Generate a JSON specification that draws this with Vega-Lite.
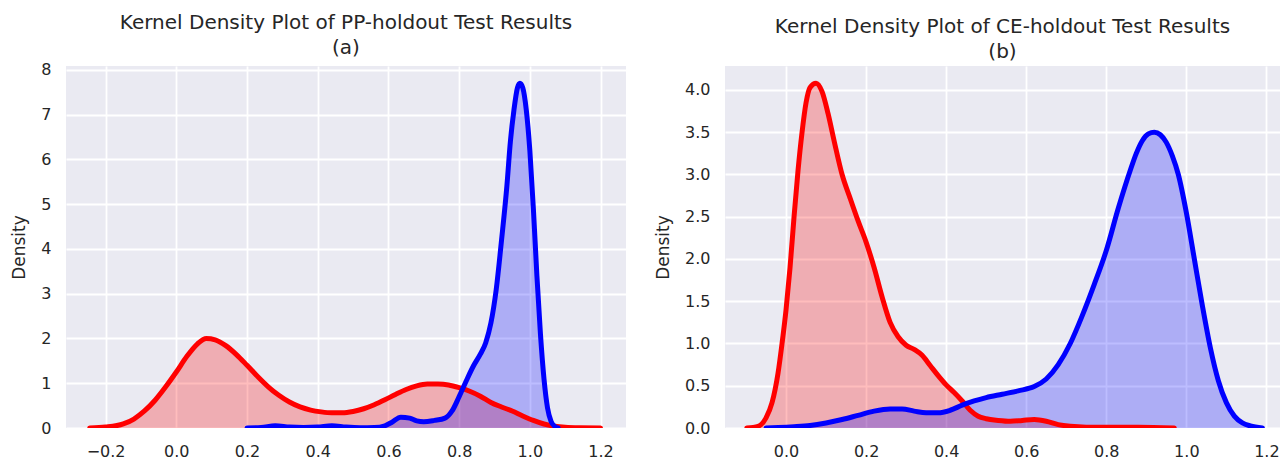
{
  "$schema": "https://vega.github.io/schema/vega-lite/v6.json",
  "padding": {"left": 10, "top": 12, "right": 0, "bottom": 0},
  "spacing": 28,
  "datasets": {
    "a": [
      {"series": "red", "x": -0.245, "y": 0}, {"series": "red", "x": -0.2, "y": 0.02}, {"series": "red", "x": -0.15, "y": 0.09},
      {"series": "red", "x": -0.12, "y": 0.2}, {"series": "red", "x": -0.09, "y": 0.38}, {"series": "red", "x": -0.06, "y": 0.62},
      {"series": "red", "x": -0.03, "y": 0.92}, {"series": "red", "x": 0.0, "y": 1.25}, {"series": "red", "x": 0.03, "y": 1.6},
      {"series": "red", "x": 0.06, "y": 1.88}, {"series": "red", "x": 0.085, "y": 2.0}, {"series": "red", "x": 0.11, "y": 1.97},
      {"series": "red", "x": 0.14, "y": 1.84}, {"series": "red", "x": 0.17, "y": 1.64}, {"series": "red", "x": 0.2, "y": 1.4},
      {"series": "red", "x": 0.23, "y": 1.15}, {"series": "red", "x": 0.26, "y": 0.92}, {"series": "red", "x": 0.29, "y": 0.73},
      {"series": "red", "x": 0.32, "y": 0.58}, {"series": "red", "x": 0.35, "y": 0.47}, {"series": "red", "x": 0.38, "y": 0.4},
      {"series": "red", "x": 0.41, "y": 0.36}, {"series": "red", "x": 0.44, "y": 0.34}, {"series": "red", "x": 0.47, "y": 0.34},
      {"series": "red", "x": 0.5, "y": 0.37}, {"series": "red", "x": 0.53, "y": 0.43}, {"series": "red", "x": 0.56, "y": 0.52},
      {"series": "red", "x": 0.59, "y": 0.63}, {"series": "red", "x": 0.62, "y": 0.75}, {"series": "red", "x": 0.65, "y": 0.86},
      {"series": "red", "x": 0.68, "y": 0.94}, {"series": "red", "x": 0.71, "y": 0.98}, {"series": "red", "x": 0.74, "y": 0.98},
      {"series": "red", "x": 0.77, "y": 0.96}, {"series": "red", "x": 0.8, "y": 0.9}, {"series": "red", "x": 0.83, "y": 0.82},
      {"series": "red", "x": 0.86, "y": 0.71}, {"series": "red", "x": 0.89, "y": 0.57}, {"series": "red", "x": 0.92, "y": 0.47},
      {"series": "red", "x": 0.95, "y": 0.38}, {"series": "red", "x": 0.98, "y": 0.27}, {"series": "red", "x": 1.01, "y": 0.17},
      {"series": "red", "x": 1.04, "y": 0.09}, {"series": "red", "x": 1.07, "y": 0.04}, {"series": "red", "x": 1.1, "y": 0.015},
      {"series": "red", "x": 1.14, "y": 0.004}, {"series": "red", "x": 1.2, "y": 0},
      {"series": "blue", "x": 0.2, "y": 0}, {"series": "blue", "x": 0.24, "y": 0.01}, {"series": "blue", "x": 0.28, "y": 0.05},
      {"series": "blue", "x": 0.32, "y": 0.02}, {"series": "blue", "x": 0.36, "y": 0.01}, {"series": "blue", "x": 0.4, "y": 0.02},
      {"series": "blue", "x": 0.44, "y": 0.05}, {"series": "blue", "x": 0.48, "y": 0.02}, {"series": "blue", "x": 0.52, "y": 0.005},
      {"series": "blue", "x": 0.56, "y": 0.01}, {"series": "blue", "x": 0.59, "y": 0.05}, {"series": "blue", "x": 0.61, "y": 0.13},
      {"series": "blue", "x": 0.635, "y": 0.24}, {"series": "blue", "x": 0.66, "y": 0.22}, {"series": "blue", "x": 0.68, "y": 0.16},
      {"series": "blue", "x": 0.7, "y": 0.14}, {"series": "blue", "x": 0.73, "y": 0.17}, {"series": "blue", "x": 0.76, "y": 0.22},
      {"series": "blue", "x": 0.78, "y": 0.38}, {"series": "blue", "x": 0.8, "y": 0.7}, {"series": "blue", "x": 0.82, "y": 1.05},
      {"series": "blue", "x": 0.84, "y": 1.38}, {"series": "blue", "x": 0.86, "y": 1.65}, {"series": "blue", "x": 0.875, "y": 1.9},
      {"series": "blue", "x": 0.89, "y": 2.35}, {"series": "blue", "x": 0.905, "y": 3.1}, {"series": "blue", "x": 0.92, "y": 4.2},
      {"series": "blue", "x": 0.935, "y": 5.4}, {"series": "blue", "x": 0.945, "y": 6.4}, {"series": "blue", "x": 0.955, "y": 7.1},
      {"series": "blue", "x": 0.965, "y": 7.6}, {"series": "blue", "x": 0.972, "y": 7.7}, {"series": "blue", "x": 0.98, "y": 7.6},
      {"series": "blue", "x": 0.99, "y": 7.1}, {"series": "blue", "x": 1.0, "y": 6.2}, {"series": "blue", "x": 1.01, "y": 4.9},
      {"series": "blue", "x": 1.02, "y": 3.4}, {"series": "blue", "x": 1.03, "y": 2.1}, {"series": "blue", "x": 1.04, "y": 1.1},
      {"series": "blue", "x": 1.05, "y": 0.45}, {"series": "blue", "x": 1.06, "y": 0.15}, {"series": "blue", "x": 1.07, "y": 0.04},
      {"series": "blue", "x": 1.08, "y": 0}
    ],
    "b": [
      {"series": "red", "x": -0.098, "y": 0}, {"series": "red", "x": -0.07, "y": 0.02}, {"series": "red", "x": -0.05, "y": 0.12},
      {"series": "red", "x": -0.035, "y": 0.3}, {"series": "red", "x": -0.02, "y": 0.65}, {"series": "red", "x": -0.01, "y": 1.0},
      {"series": "red", "x": 0.0, "y": 1.4}, {"series": "red", "x": 0.01, "y": 1.9}, {"series": "red", "x": 0.02, "y": 2.5},
      {"series": "red", "x": 0.03, "y": 3.05}, {"series": "red", "x": 0.04, "y": 3.5}, {"series": "red", "x": 0.05, "y": 3.85},
      {"series": "red", "x": 0.06, "y": 4.03}, {"series": "red", "x": 0.075, "y": 4.08}, {"series": "red", "x": 0.09, "y": 3.98},
      {"series": "red", "x": 0.105, "y": 3.72}, {"series": "red", "x": 0.12, "y": 3.4}, {"series": "red", "x": 0.14, "y": 3.0},
      {"series": "red", "x": 0.16, "y": 2.72}, {"series": "red", "x": 0.18, "y": 2.45}, {"series": "red", "x": 0.2, "y": 2.2},
      {"series": "red", "x": 0.22, "y": 1.9}, {"series": "red", "x": 0.24, "y": 1.55}, {"series": "red", "x": 0.26, "y": 1.25},
      {"series": "red", "x": 0.28, "y": 1.08}, {"series": "red", "x": 0.3, "y": 0.98}, {"series": "red", "x": 0.32, "y": 0.93},
      {"series": "red", "x": 0.34, "y": 0.86}, {"series": "red", "x": 0.36, "y": 0.74}, {"series": "red", "x": 0.38, "y": 0.62},
      {"series": "red", "x": 0.4, "y": 0.51}, {"series": "red", "x": 0.42, "y": 0.42}, {"series": "red", "x": 0.44, "y": 0.32},
      {"series": "red", "x": 0.46, "y": 0.21}, {"series": "red", "x": 0.48, "y": 0.14}, {"series": "red", "x": 0.5, "y": 0.11},
      {"series": "red", "x": 0.53, "y": 0.09}, {"series": "red", "x": 0.56, "y": 0.08}, {"series": "red", "x": 0.59, "y": 0.09},
      {"series": "red", "x": 0.62, "y": 0.1}, {"series": "red", "x": 0.65, "y": 0.08}, {"series": "red", "x": 0.68, "y": 0.04},
      {"series": "red", "x": 0.71, "y": 0.02}, {"series": "red", "x": 0.75, "y": 0.01}, {"series": "red", "x": 0.8, "y": 0.01},
      {"series": "red", "x": 0.88, "y": 0.01}, {"series": "red", "x": 0.97, "y": 0},
      {"series": "blue", "x": -0.05, "y": 0}, {"series": "blue", "x": -0.02, "y": 0.005}, {"series": "blue", "x": 0.02, "y": 0.015},
      {"series": "blue", "x": 0.06, "y": 0.03}, {"series": "blue", "x": 0.1, "y": 0.06}, {"series": "blue", "x": 0.14, "y": 0.1},
      {"series": "blue", "x": 0.18, "y": 0.15}, {"series": "blue", "x": 0.22, "y": 0.2}, {"series": "blue", "x": 0.26, "y": 0.225},
      {"series": "blue", "x": 0.29, "y": 0.225}, {"series": "blue", "x": 0.32, "y": 0.2}, {"series": "blue", "x": 0.35, "y": 0.18},
      {"series": "blue", "x": 0.38, "y": 0.18}, {"series": "blue", "x": 0.41, "y": 0.21}, {"series": "blue", "x": 0.44, "y": 0.27},
      {"series": "blue", "x": 0.47, "y": 0.32}, {"series": "blue", "x": 0.5, "y": 0.36}, {"series": "blue", "x": 0.54, "y": 0.4},
      {"series": "blue", "x": 0.58, "y": 0.44}, {"series": "blue", "x": 0.62, "y": 0.49}, {"series": "blue", "x": 0.65, "y": 0.58},
      {"series": "blue", "x": 0.68, "y": 0.75}, {"series": "blue", "x": 0.71, "y": 1.0}, {"series": "blue", "x": 0.74, "y": 1.33},
      {"series": "blue", "x": 0.77, "y": 1.7}, {"series": "blue", "x": 0.8, "y": 2.1}, {"series": "blue", "x": 0.83, "y": 2.6},
      {"series": "blue", "x": 0.86, "y": 3.05}, {"series": "blue", "x": 0.875, "y": 3.25}, {"series": "blue", "x": 0.89, "y": 3.4}, {"series": "blue", "x": 0.905, "y": 3.48}, {"series": "blue", "x": 0.92, "y": 3.5},
      {"series": "blue", "x": 0.935, "y": 3.47}, {"series": "blue", "x": 0.95, "y": 3.38}, {"series": "blue", "x": 0.965, "y": 3.22}, {"series": "blue", "x": 0.98, "y": 3.0}, {"series": "blue", "x": 1.0, "y": 2.55},
      {"series": "blue", "x": 1.02, "y": 2.0}, {"series": "blue", "x": 1.04, "y": 1.45}, {"series": "blue", "x": 1.06, "y": 0.95},
      {"series": "blue", "x": 1.08, "y": 0.56}, {"series": "blue", "x": 1.1, "y": 0.3}, {"series": "blue", "x": 1.12, "y": 0.14},
      {"series": "blue", "x": 1.14, "y": 0.06}, {"series": "blue", "x": 1.16, "y": 0.025}, {"series": "blue", "x": 1.19, "y": 0}
    ]
  },
  "hconcat": [
    {
      "title": {"text": ["Kernel Density Plot of PP-holdout Test Results", "(a)"]},
      "width": 560,
      "height": 362,
      "data": {"name": "a"},
      "encoding": {
        "x": {"field": "x", "type": "quantitative", "title": null,
              "scale": {"domain": [-0.312, 1.272], "nice": false, "zero": false},
              "axis": {"values": [-0.2, 0, 0.2, 0.4, 0.6, 0.8, 1.0, 1.2], "format": ".1f"}},
        "y": {"field": "y", "type": "quantitative", "title": "Density", "stack": null,
              "scale": {"domain": [0, 8.085], "nice": false},
              "axis": {"values": [0, 1, 2, 3, 4, 5, 6, 7, 8], "format": "d"}},
        "color": {"field": "series", "type": "nominal", "legend": null,
                  "scale": {"domain": ["blue", "red"], "range": ["#0000FF", "#FF0000"]}}
      },
      "layer": [
        {"mark": {"type": "area", "opacity": 0.26, "clip": true, "interpolate": "monotone"}},
        {"mark": {"type": "line", "strokeWidth": 5, "strokeJoin": "round", "strokeCap": "round", "clip": true, "interpolate": "monotone"}}
      ]
    },
    {
      "title": {"text": ["Kernel Density Plot of CE-holdout Test Results", "(b)"]},
      "width": 555,
      "height": 362,
      "data": {"name": "b"},
      "encoding": {
        "x": {"field": "x", "type": "quantitative", "title": null,
              "scale": {"domain": [-0.1525, 1.234], "nice": false, "zero": false},
              "axis": {"values": [0, 0.2, 0.4, 0.6, 0.8, 1.0, 1.2], "format": ".1f"}},
        "y": {"field": "y", "type": "quantitative", "title": "Density", "stack": null,
              "scale": {"domain": [0, 4.284], "nice": false},
              "axis": {"values": [0, 0.5, 1, 1.5, 2, 2.5, 3, 3.5, 4], "format": ".1f"}},
        "color": {"field": "series", "type": "nominal", "legend": null,
                  "scale": {"domain": ["blue", "red"], "range": ["#0000FF", "#FF0000"]}}
      },
      "layer": [
        {"mark": {"type": "area", "opacity": 0.26, "clip": true, "interpolate": "monotone"}},
        {"mark": {"type": "line", "strokeWidth": 5, "strokeJoin": "round", "strokeCap": "round", "clip": true, "interpolate": "monotone"}}
      ]
    }
  ],
  "resolve": {"scale": {"x": "independent", "y": "independent", "color": "shared"}},
  "config": {
    "view": {"fill": "#EAEAF2", "stroke": null},
    "axis": {
      "grid": true, "gridColor": "#FFFFFF", "gridWidth": 1.8, "domain": false, "ticks": false, "tickSize": 0,
      "labelFont": "DejaVu Sans", "labelFontSize": 16, "labelColor": "#262626", "labelPadding": 15,
      "labelFlush": false, "labelOverlap": false,
      "titleFont": "DejaVu Sans", "titleFontSize": 17, "titleFontWeight": "normal", "titleColor": "#262626", "titlePadding": 12
    },
    "title": {"font": "DejaVu Sans", "fontSize": 20, "fontWeight": "normal", "color": "#262626", "lineHeight": 25, "offset": 4, "frame": "group", "anchor": "middle"}
  }
}
